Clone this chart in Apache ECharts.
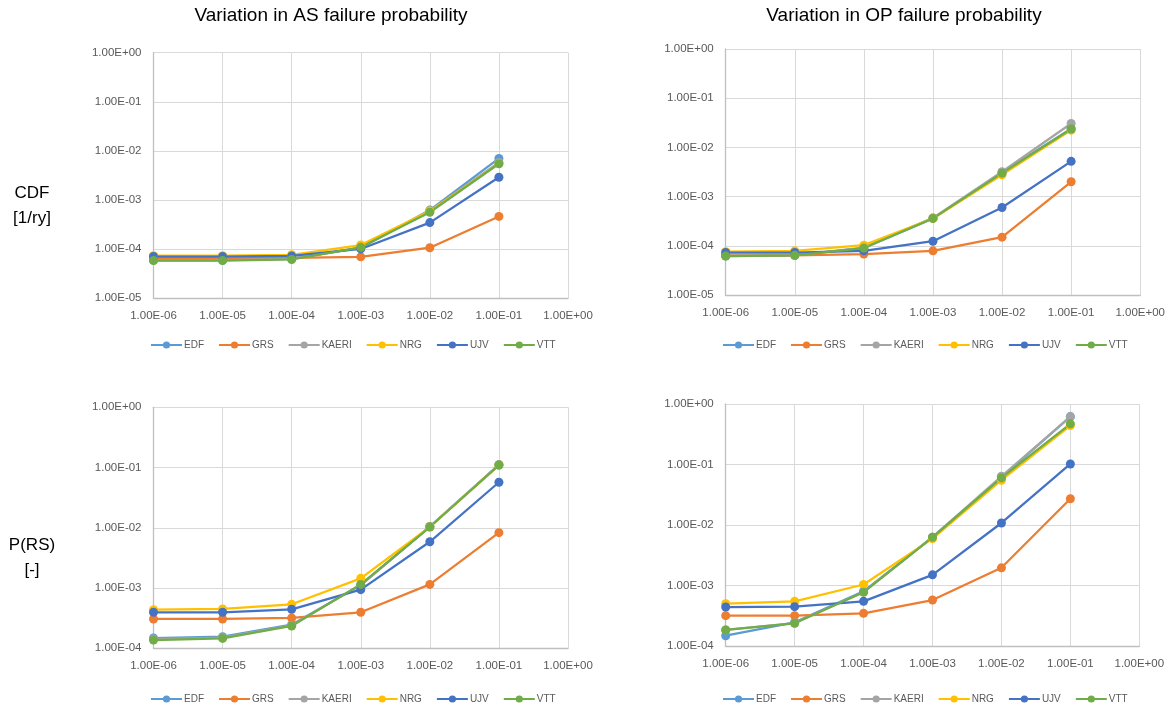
<!DOCTYPE html>
<html><head><meta charset="utf-8">
<script src="https://cdn.jsdelivr.net/npm/echarts@6/dist/echarts.min.js"></script>
<style>html,body{margin:0;padding:0;background:#fff}#c{width:1168px;height:710px}</style>
</head><body><div id="c"></div>
<script>
const seriesNames = ['EDF','GRS','KAERI','NRG','UJV','VTT'];
const colors = ['#5B9BD5','#ED7D31','#A5A5A5','#FFC000','#4472C4','#70AD47'];
const xValues = [1e-6,1e-5,1e-4,1e-3,1e-2,1e-1];
const titles = ['Variation in AS failure probability','Variation in OP failure probability'];
const rowLabels = [['CDF','[1/ry]'],['P(RS)','[-]']];

// Top-left: CDF vs AS failure probability
const asCDF_EDF   = [5.9e-5, 5.9e-5, 6.3e-5, 1.05e-4, 6.2e-4, 7.0e-3];
const asCDF_GRS   = [6.4e-5, 6.4e-5, 6.6e-5, 6.9e-5, 1.06e-4, 4.6e-4];
const asCDF_KAERI = [5.9e-5, 5.9e-5, 6.3e-5, 1.07e-4, 6.0e-4, 5.8e-3];
const asCDF_NRG   = [7.3e-5, 7.3e-5, 7.6e-5, 1.2e-4, 5.9e-4, 5.5e-3];
const asCDF_UJV   = [7.0e-5, 7.0e-5, 7.2e-5, 1.0e-4, 3.44e-4, 2.9e-3];
const asCDF_VTT   = [5.8e-5, 5.8e-5, 6.1e-5, 1.08e-4, 5.6e-4, 5.45e-3];

// Top-right: CDF vs OP failure probability
const opCDF_EDF   = [6.2e-5, 6.4e-5, 9.0e-5, 3.6e-4, 3.1e-3, 2.4e-2];
const opCDF_GRS   = [6.4e-5, 6.4e-5, 6.8e-5, 7.9e-5, 1.5e-4, 2.0e-3];
const opCDF_KAERI = [6.3e-5, 6.5e-5, 9.2e-5, 3.7e-4, 3.2e-3, 3.06e-2];
const opCDF_NRG   = [7.6e-5, 7.9e-5, 1.03e-4, 3.6e-4, 2.77e-3, 2.24e-2];
const opCDF_UJV   = [7.3e-5, 7.3e-5, 7.9e-5, 1.24e-4, 6.0e-4, 5.2e-3];
const opCDF_VTT   = [6.2e-5, 6.4e-5, 9.0e-5, 3.6e-4, 3.0e-3, 2.37e-2];

// Bottom-left: P(RS) vs AS failure probability
const asPRS_EDF   = [1.48e-4, 1.56e-4, 2.47e-4, 1.12e-3, 1.05e-2, 1.12e-1];
const asPRS_GRS   = [3.07e-4, 3.07e-4, 3.19e-4, 3.96e-4, 1.15e-3, 8.3e-3];
const asPRS_KAERI = [1.42e-4, 1.5e-4, 2.4e-4, 1.12e-3, 1.05e-2, 1.1e-1];
const asPRS_NRG   = [4.38e-4, 4.5e-4, 5.37e-4, 1.45e-3, 1.03e-2, 1.1e-1];
const asPRS_UJV   = [3.96e-4, 3.96e-4, 4.44e-4, 9.4e-4, 5.86e-3, 5.7e-2];
const asPRS_VTT   = [1.37e-4, 1.46e-4, 2.35e-4, 1.15e-3, 1.03e-2, 1.1e-1];

// Bottom-right: P(RS) vs OP failure probability
const opPRS_EDF   = [1.48e-4, 2.46e-4, 8.0e-4, 6.3e-3, 6.1e-2, 6.2e-1];
const opPRS_GRS   = [3.17e-4, 3.17e-4, 3.47e-4, 5.75e-4, 1.96e-3, 2.72e-2];
const opPRS_KAERI = [1.84e-4, 2.4e-4, 7.8e-4, 6.3e-3, 6.4e-2, 6.2e-1];
const opPRS_NRG   = [5.0e-4, 5.47e-4, 1.04e-3, 5.95e-3, 5.5e-2, 4.4e-1];
const opPRS_UJV   = [4.41e-4, 4.47e-4, 5.47e-4, 1.5e-3, 1.08e-2, 1.02e-1];
const opPRS_VTT   = [1.84e-4, 2.37e-4, 7.76e-4, 6.25e-3, 6.0e-2, 4.7e-1];

const panels = [
  [asCDF_EDF, asCDF_GRS, asCDF_KAERI, asCDF_NRG, asCDF_UJV, asCDF_VTT],
  [opCDF_EDF, opCDF_GRS, opCDF_KAERI, opCDF_NRG, opCDF_UJV, opCDF_VTT],
  [asPRS_EDF, asPRS_GRS, asPRS_KAERI, asPRS_NRG, asPRS_UJV, asPRS_VTT],
  [opPRS_EDF, opPRS_GRS, opPRS_KAERI, opPRS_NRG, opPRS_UJV, opPRS_VTT]
];
const yMins = [1e-5, 1e-5, 1e-4, 1e-4];

function fmt(v){
  const e = Math.round(Math.log10(v));
  return '1.00E' + (e < 0 ? '-' : '+') + String(Math.abs(e)).padStart(2,'0');
}

const FONT = '"Liberation Sans", Arial, sans-serif';
const grids = [
  {left:153.5, top:52.7, width:414.5, height:245.3},
  {left:725.7, top:49, width:414.6, height:246},
  {left:153.5, top:407.3, width:414.5, height:241},
  {left:725.7, top:404, width:413.6, height:242}
];
const legendPos = [{left:150, top:340},{left:722, top:340},{left:150, top:694},{left:722, top:694}];

const axisLabel = {color:'#595959', fontSize:11.5, fontFamily:FONT};
const xAxis = [], yAxis = [], series = [], legend = [];
grids.forEach((g, i) => {
  xAxis.push({type:'log', logBase:10, gridIndex:i, min:1e-6, max:1,
    axisLine:{show:true, lineStyle:{color:'#BFBFBF', width:1.3}},
    axisTick:{show:false}, splitLine:{show:true, lineStyle:{color:'#D9D9D9'}},
    minorTick:{show:false},
    axisLabel:Object.assign({formatter:fmt, margin:12}, axisLabel)});
  yAxis.push({type:'log', logBase:10, gridIndex:i, min:yMins[i], max:1,
    axisLine:{show:true, lineStyle:{color:'#BFBFBF', width:1.3}},
    axisTick:{show:false}, splitLine:{show:true, lineStyle:{color:'#D9D9D9'}},
    axisLabel:Object.assign({formatter:fmt, margin:12}, axisLabel)});
  panels[i].forEach((vals, k) => {
    series.push({name:seriesNames[k], type:'line', xAxisIndex:i, yAxisIndex:i,
      data: xValues.map((x, j) => [x, vals[j]]),
      symbol:'circle', symbolSize:9, color:colors[k],
      lineStyle:{width:2.25, color:colors[k]}, itemStyle:{color:colors[k]},
      animation:false});
  });
  legend.push(Object.assign({data:seriesNames, orient:'horizontal', itemWidth:31, itemHeight:9,
    itemGap:14, padding:0,
    textStyle:{color:'#595959', fontSize:10, fontFamily:FONT, padding:[0,0,0,-3]}}, legendPos[i]));
});

const graphic = [
  {type:'text', style:{text:titles[0], font:'19px '+FONT, fill:'#000', textAlign:'center', textVerticalAlign:'middle'}, x:331, y:16},
  {type:'text', style:{text:titles[1], font:'19px '+FONT, fill:'#000', textAlign:'center', textVerticalAlign:'middle'}, x:904, y:16},
  {type:'text', style:{text:rowLabels[0].join('\n'), font:'17px '+FONT, fill:'#000', textAlign:'center', lineHeight:25}, x:32, y:181},
  {type:'text', style:{text:rowLabels[1].join('\n'), font:'17px '+FONT, fill:'#000', textAlign:'center', lineHeight:25}, x:32, y:533}
];

const chart = echarts.init(document.getElementById('c'), null, {renderer:'canvas'});
chart.setOption({animation:false, grid:grids, xAxis, yAxis, series, legend, graphic});
</script></body></html>
